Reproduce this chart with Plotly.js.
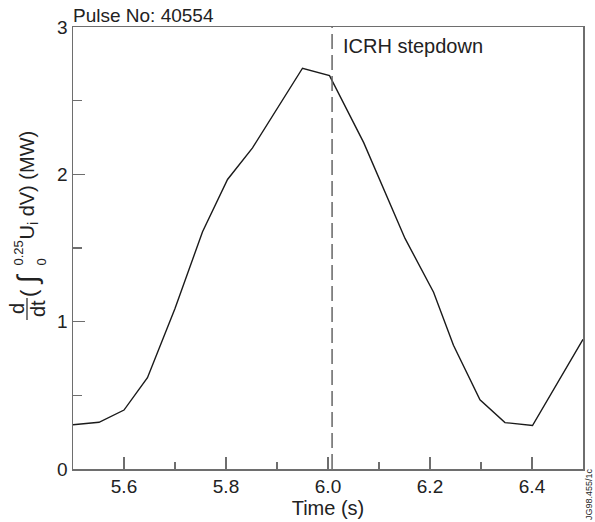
<!DOCTYPE html>
<html>
<head>
<meta charset="utf-8">
<script src="https://cdn.plot.ly/plotly-3.0.1.min.js"></script>
<style>
html,body{margin:0;padding:0;background:#fff;}
#chart{width:595px;height:522px;}
</style>
</head>
<body>
<div id="chart"></div>
<script>
// Data
var time = [5.5, 5.551, 5.6, 5.646, 5.70, 5.754, 5.803, 5.852, 5.95, 6.003, 6.07, 6.151, 6.207, 6.246, 6.298, 6.347, 6.401, 6.5];
var power = [0.30, 0.317, 0.40, 0.62, 1.09, 1.61, 1.965, 2.18, 2.72, 2.67, 2.215, 1.565, 1.20, 0.84, 0.47, 0.315, 0.295, 0.88];
var stepdownTime = 6.008;
var xTickVals = [5.6, 5.8, 6.0, 6.2, 6.4];
var xTickText = ["5.6", "5.8", "6.0", "6.2", "6.4"];
var yTickVals = [0, 1, 2, 3];
var yTickText = ["0", "1", "2", "3"];
var pulseLabel = "Pulse No: 40554";
var eventLabel = "ICRH stepdown";
var figureId = "JG98.455/1c";

var FONT = "Liberation Sans, Arial, sans-serif";
var TXT = "#222";

var L = 73, R = 12, T = 27, B = 53, W = 595, H = 522;
var pw = W - L - R, ph = H - T - B;
function px(sx){ return (sx - L) / pw; }
function py(sy){ return (H - B - sy) / ph; }

var trace = {
  x: time, y: power, type: "scatter", mode: "lines",
  line: {color: "#1a1a1a", width: 1.4},
  hoverinfo: "skip"
};

var axisCommon = {
  showgrid: false, zeroline: false, showline: true, mirror: true,
  linecolor: "#6e6e6e", linewidth: 1.5,
  ticks: "inside", ticklen: 12, tickwidth: 1.3, tickcolor: "#6e6e6e",
  tickfont: {family: FONT, size: 19, color: TXT}
};

var layout = {
  width: W, height: H,
  margin: {l: L, r: R, t: T, b: B, pad: 0},
  paper_bgcolor: "#fff", plot_bgcolor: "#fff",
  showlegend: false,
  xaxis: Object.assign({}, axisCommon, {
    range: [5.5, 6.5], tickmode: "array", tickvals: xTickVals, ticktext: xTickText,
    minor: {ticks: "inside", ticklen: 7, tickwidth: 1.3, tickcolor: "#6e6e6e", dtick: 0.1, tick0: 5.5},
    title: {text: "Time (s)", font: {family: FONT, size: 20, color: TXT}, standoff: 2}
  }),
  yaxis: Object.assign({}, axisCommon, {
    range: [0, 3], tickmode: "array", tickvals: yTickVals, ticktext: yTickText,
    minor: {ticks: "inside", ticklen: 9, tickwidth: 1.3, tickcolor: "#6e6e6e", dtick: 0.5, tick0: 0}
  }),
  shapes: [
    {type: "line", xref: "x", yref: "y", x0: stepdownTime, x1: stepdownTime, y0: 0, y1: 3,
     line: {color: "#666", width: 1.5, dash: "15px,6px"}},
    {type: "line", xref: "paper", yref: "paper", x0: px(27), x1: px(27), y0: py(298), y1: py(320),
     line: {color: TXT, width: 1.2}}
  ],
  annotations: [
    {xref: "paper", yref: "paper", x: px(71), y: 1, xanchor: "left", yanchor: "bottom",
     text: pulseLabel, showarrow: false, font: {family: FONT, size: 19, color: TXT}, yshift: -1},
    {xref: "paper", yref: "paper", x: px(341), y: py(33), xanchor: "left", yanchor: "top",
     text: eventLabel, showarrow: false, font: {family: FONT, size: 20, color: TXT}},
    {xref: "paper", yref: "paper", x: px(589), y: py(522), xanchor: "center", yanchor: "bottom",
     text: figureId, textangle: -90, showarrow: false, font: {family: FONT, size: 9, color: TXT}},
    // y-axis title pieces
    {xref: "paper", yref: "paper", x: px(17), y: py(309), xanchor: "center", yanchor: "middle",
     text: "d", textangle: -90, showarrow: false, font: {family: FONT, size: 20, color: TXT}},
    {xref: "paper", yref: "paper", x: px(38), y: py(309), xanchor: "center", yanchor: "middle",
     text: "dt", textangle: -90, showarrow: false, font: {family: FONT, size: 20, color: TXT}},
    {xref: "paper", yref: "paper", x: px(28), y: py(299), xanchor: "center", yanchor: "bottom",
     text: "(", textangle: -90, showarrow: false, font: {family: FONT, size: 22, color: TXT}},
    {xref: "paper", yref: "paper", x: px(27), y: py(287), xanchor: "center", yanchor: "bottom",
     text: "\u222B", textangle: -90, showarrow: false, font: {family: FONT, size: 28, color: TXT}},
    {xref: "paper", yref: "paper", x: px(18), y: py(268), xanchor: "center", yanchor: "bottom",
     text: "0.25", textangle: -90, showarrow: false, font: {family: FONT, size: 13, color: TXT}},
    {xref: "paper", yref: "paper", x: px(41), y: py(268), xanchor: "center", yanchor: "bottom",
     text: "0", textangle: -90, showarrow: false, font: {family: FONT, size: 13, color: TXT}},
    {xref: "paper", yref: "paper", x: px(28), y: py(242), xanchor: "center", yanchor: "bottom",
     text: "U<sub>i</sub> dV) (MW)", textangle: -90, showarrow: false, font: {family: FONT, size: 20, color: TXT}}
  ]
};

Plotly.newPlot("chart", [trace], layout, {staticPlot: true, displayModeBar: false});
</script>
</body>
</html>
